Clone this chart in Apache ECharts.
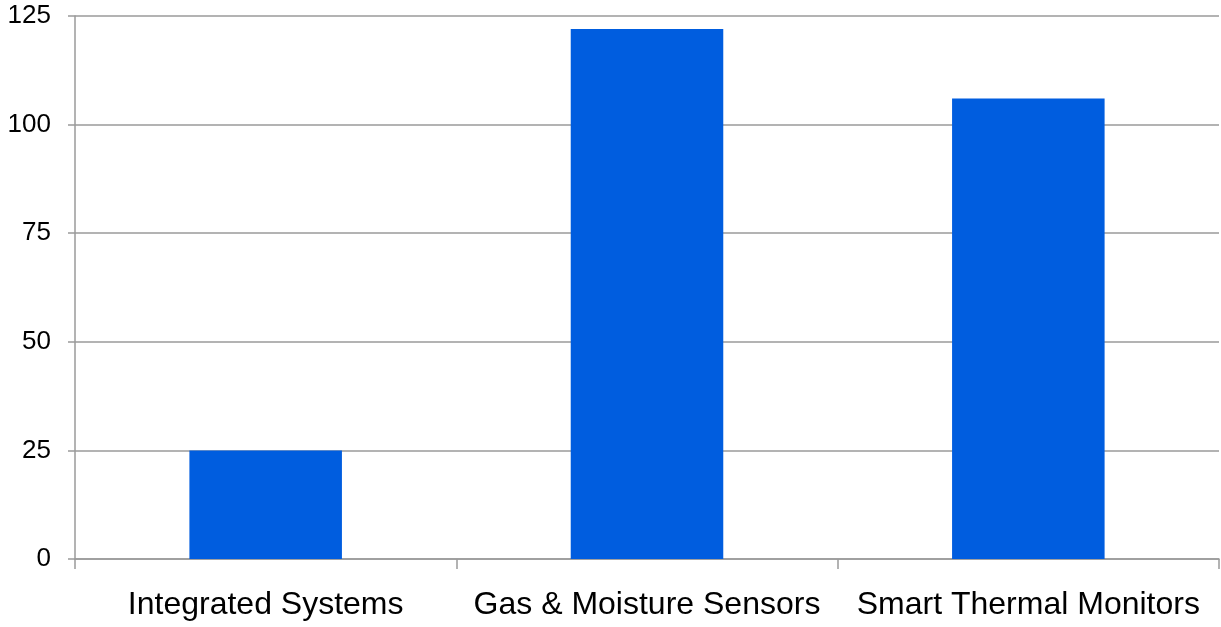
<!DOCTYPE html>
<html>
<head>
<meta charset="utf-8">
<script src="https://cdn.jsdelivr.net/npm/echarts@6/dist/echarts.min.js"></script>
<style>
  html, body { margin: 0; padding: 0; background: #ffffff; }
  #chart { width: 1221px; height: 627px; }
</style>
</head>
<body>
<div id="chart"></div>
<script>
// Product categories and their counts
const categories = ['Integrated Systems', 'Gas & Moisture Sensors', 'Smart Thermal Monitors'];
const values = [25, 122, 106];
const yTicks = [0, 25, 50, 75, 100, 125];

const chart = echarts.init(document.getElementById('chart'), null, { renderer: 'canvas' });

const lineColor = '#9a9a9a';
const font = '"Liberation Sans", Arial, sans-serif';

chart.setOption({
  animation: false,
  backgroundColor: '#ffffff',
  grid: { left: 75, right: 2, top: 16, bottom: 68, containLabel: false },
  xAxis: {
    type: 'category',
    data: categories,
    boundaryGap: true,
    axisLine: { show: true, lineStyle: { color: lineColor, width: 1.5 } },
    axisTick: { show: true, alignWithLabel: false, length: 10, lineStyle: { color: lineColor, width: 1.5 } },
    axisLabel: { color: '#000000', fontFamily: font, fontSize: 32, margin: 30, interval: 0 },
    splitLine: { show: false }
  },
  yAxis: {
    type: 'value',
    min: yTicks[0],
    max: yTicks[yTicks.length - 1],
    interval: yTicks[1] - yTicks[0],
    axisLine: { show: true, lineStyle: { color: lineColor, width: 1.5 } },
    axisTick: { show: true, length: 7, lineStyle: { color: lineColor, width: 1.5 } },
    axisLabel: { color: '#000000', fontFamily: font, fontSize: 26, margin: 24 },
    splitLine: { show: true, lineStyle: { color: lineColor, width: 1.5 } }
  },
  series: [{
    type: 'bar',
    data: values,
    barWidth: '40%',
    itemStyle: { color: '#005ddf' }
  }]
});
</script>
</body>
</html>
